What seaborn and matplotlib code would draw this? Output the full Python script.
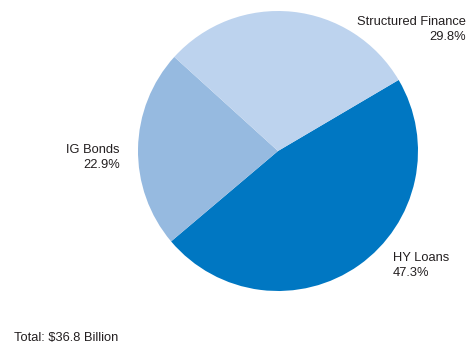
import matplotlib
matplotlib.use("Agg")
import matplotlib.pyplot as plt
import seaborn as sns

# Portfolio composition
categories = ["HY Loans", "IG Bonds", "Structured Finance"]
shares = [47.3, 22.9, 29.8]
total_label = "Total: $36.8 Billion"

sns.set_style("white")
plt.rcParams["font.family"] = ["Liberation Sans", "DejaVu Sans"]

palette = sns.color_palette(["#0077C2", "#96BAE0", "#BDD3EE"])
text_color = "#231F20"

W, H = 471, 347
fig = plt.figure(figsize=(W / 100, H / 100), dpi=100)
ax = fig.add_axes([0, 0, 1, 1])

cx, cy, r = 278, H - 151, 140
ax.pie(shares, colors=palette, startangle=30.5, counterclock=False,
       center=(cx, cy), radius=r, frame=True,
       wedgeprops=dict(linewidth=0))
ax.set_xlim(0, W)
ax.set_ylim(0, H)
ax.set_aspect("equal")
ax.axis("off")

fs = 9.3
label_pos = {
    "HY Loans": (393, H - 252, "left"),
    "IG Bonds": (120, H - 144, "right"),
    "Structured Finance": (466, H - 16, "right"),
}
for name, val in zip(categories, shares):
    x, y, ha = label_pos[name]
    ax.text(x, y, f"{name}\n{val:.1f}%", ha=ha, va="top", fontsize=fs,
            color=text_color, multialignment=ha, linespacing=1.3)

ax.text(14, H - 338, total_label, ha="left", va="center", fontsize=fs,
        color=text_color)

fig.savefig("out.png", dpi=100)
